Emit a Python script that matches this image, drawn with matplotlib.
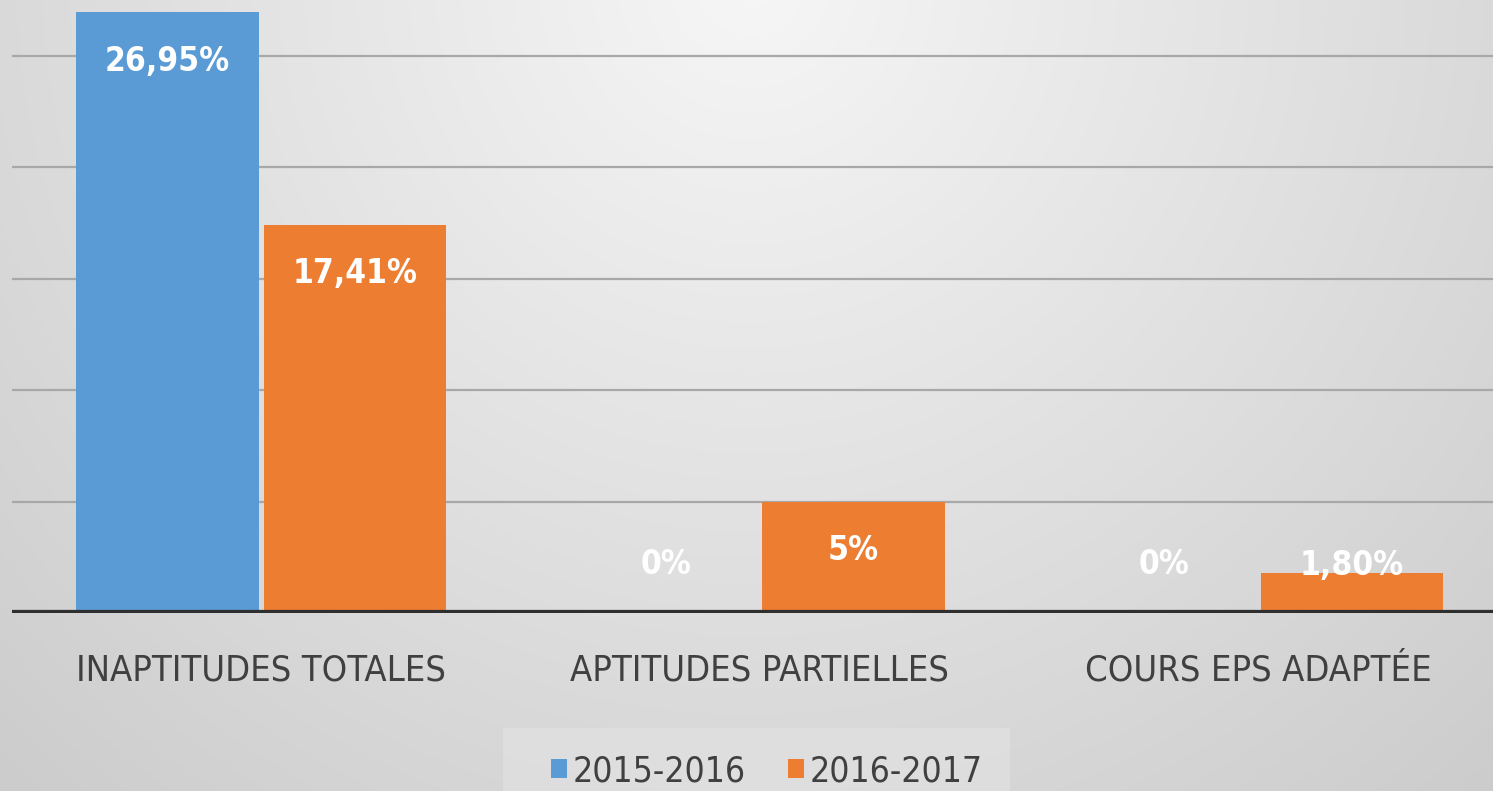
import numpy as np
import matplotlib
matplotlib.use("Agg")
import matplotlib.pyplot as plt
from matplotlib import font_manager

categories = ["INAPTITUDES TOTALES", "APTITUDES PARTIELLES", "COURS EPS ADAPTÉE"]
series_names = ["2015-2016", "2016-2017"]
values_2015 = [26.95, 0.0, 0.0]
values_2016 = [17.41, 5.0, 1.80]
labels_2015 = ["26,95%", "0%", "0%"]
labels_2016 = ["17,41%", "5%", "1,80%"]

fam = ["DejaVu Sans"]
stretch = "condensed"

W, H = 1493, 791
fig = plt.figure(figsize=(W / 100, H / 100), dpi=100)

# background radial gradient
bg = fig.add_axes([0, 0, 1, 1], zorder=-10)
yy, xx = np.mgrid[0:H, 0:W]
d = np.sqrt(((xx - 750) / 900.0) ** 2 + ((yy + 20) / 900.0) ** 2)
c = np.clip(0.965 - 0.135 * d, 0.78, 1.0)
img = np.dstack([c, c, c])
bg.imshow(img, aspect="auto", extent=[0, W, H, 0])
bg.set_xlim(0, W)
bg.set_ylim(H, 0)
bg.axis("off")

# legend backing box
bg.add_patch(plt.Rectangle((503, 728), 507, 70, facecolor="#e3e3e3", edgecolor="none", alpha=0.6))

px_per_pct = 22.3
base_px = 613
ax = fig.add_axes([12 / W, (H - base_px) / H, 1 - 12 / W + 0.02, base_px / H])
ax.set_facecolor("none")
ax.set_ylim(0, base_px / px_per_pct)
units = 498.5
ax.set_xlim(-0.5, -0.5 + (W + 0.02 * W - 12) / units)

x = np.arange(len(categories))
bw = 0.366
off = 0.188
b1 = ax.bar(x - off, values_2015, bw, color="#5b9bd5", zorder=3, label=series_names[0])
b2 = ax.bar(x + off, values_2016, bw, color="#ed7d31", zorder=3, label=series_names[1])

for yv in [5, 10, 15, 20, 25]:
    ax.axhline(yv, color="#a8a8a8", lw=1.6, zorder=1)
ax.axhline(0, color="#2f2f2f", lw=4.5, zorder=4)

for s in ax.spines.values():
    s.set_visible(False)
ax.set_yticks([])
ax.set_xticks(x)
ax.set_xticklabels(categories, fontsize=26, color="#404040", family=fam, fontstretch=stretch)
ax.tick_params(axis="x", length=0, pad=29)

thresh = 97 / px_per_pct
for xs, vals, labs in [(x - off, values_2015, labels_2015), (x + off, values_2016, labels_2016)]:
    for xi, v, lab in zip(xs, vals, labs):
        ax.annotate(lab, xy=(xi, max(v, thresh)), xytext=(0, -49), textcoords="offset pixels",
                    ha="center", va="center", fontsize=24, fontweight="bold", color="white",
                    family=fam, fontstretch=stretch, zorder=5)

leg = fig.legend(handles=[b1, b2], labels=series_names, loc="center", bbox_to_anchor=(767 / W, (H - 771) / H),
                 ncol=2, frameon=False, handlelength=0.45, handleheight=0.45,
                 handletextpad=0.15, columnspacing=1.2,
                 prop=font_manager.FontProperties(family=fam, size=25.5, stretch=stretch))
for t in leg.get_texts():
    t.set_color("#404040")

fig.savefig("out.png", dpi=100)
